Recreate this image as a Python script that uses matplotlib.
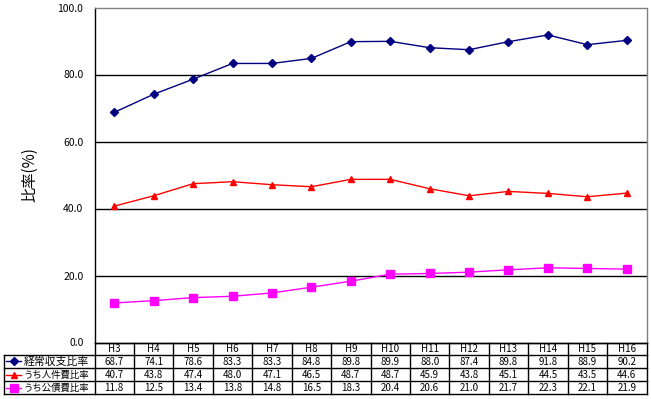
import matplotlib
matplotlib.use("Agg")
import matplotlib.pyplot as plt

plt.rcParams['font.family'] = ['Noto Sans CJK JP', 'DejaVu Sans']

categories = ["H3", "H4", "H5", "H6", "H7", "H8", "H9", "H10", "H11", "H12", "H13", "H14", "H15", "H16"]
keijo = [68.7, 74.1, 78.6, 83.3, 83.3, 84.8, 89.8, 89.9, 88.0, 87.4, 89.8, 91.8, 88.9, 90.2]
jinken = [40.7, 43.8, 47.4, 48.0, 47.1, 46.5, 48.7, 48.7, 45.9, 43.8, 45.1, 44.5, 43.5, 44.6]
kosai = [11.8, 12.5, 13.4, 13.8, 14.8, 16.5, 18.3, 20.4, 20.6, 21.0, 21.7, 22.3, 22.1, 21.9]
series_names = ["経常収支比率", "うち人件費比率", "うち公債費比率"]
yticks = [0, 20, 40, 60, 80, 100]

W, H = 651, 399
fig = plt.figure(figsize=(W / 100, H / 100), dpi=100)
fig.patch.set_facecolor("white")

L, R, T, B = 94.5, 646.5, 7.5, 342.5
ax = fig.add_axes([L / W, 1 - B / H, (R - L) / W, (B - T) / H])
x = list(range(len(categories)))

styles = [
    dict(color="#000080", marker="D", markersize=4),
    dict(color="#FF0000", marker="^", markersize=5),
    dict(color="#FF00FF", marker="s", markersize=5.5),
]
data = [keijo, jinken, kosai]
for vals, st in zip(data, styles):
    ax.plot(x, vals, lw=1, zorder=3, **st)

ax.set_xlim(-0.5, len(categories) - 0.5)
ax.set_ylim(0, 100)
ax.set_yticks(yticks)
ax.set_yticklabels([f"{v:.1f}" for v in yticks], fontsize=7.5)
ax.set_xticks([])
for v in yticks[1:-1]:
    ax.axhline(v, color="black", lw=1, zorder=1)
ax.tick_params(axis="y", length=0, pad=8)
ax.spines["left"].set_color("black")
ax.spines["bottom"].set_color("black")
ax.spines["top"].set_color("#808080")
ax.spines["right"].set_color("#808080")
for s in ax.spines.values():
    s.set_linewidth(1)

fig.text(30 / W, 1 - 175 / H, "比率(%)", rotation=90, ha="center", va="center", fontsize=11)

# table overlay
tax = fig.add_axes([0, 0, 1, 1])
tax.set_xlim(0, W)
tax.set_ylim(H, 0)
tax.axis("off")
tax.patch.set_alpha(0)

colw = (R - L) / len(categories)
rows_y = [342.5, 354.5, 368, 381, 394]
lx = 3.5
tax.plot([L, R], [rows_y[0], rows_y[0]], color="black", lw=1)
for yy in rows_y[1:]:
    tax.plot([lx, R], [yy, yy], color="black", lw=1)
tax.plot([lx, lx], [rows_y[1], rows_y[-1]], color="black", lw=1)
for i in range(len(categories) + 1):
    xx = L + i * colw
    tax.plot([xx, xx], [rows_y[0], rows_y[-1]], color="black", lw=1)

for i, c in enumerate(categories):
    cx = L + (i + 0.5) * colw
    tax.text(cx, (rows_y[0] + rows_y[1]) / 2 + 0.5, c, ha="center", va="center", fontsize=7)
    for r, vals in enumerate(data):
        cy = (rows_y[r + 1] + rows_y[r + 2]) / 2 + 0.5
        tax.text(cx, cy, f"{vals[i]:.1f}", ha="center", va="center", fontsize=7)

for r, (name, st) in enumerate(zip(series_names, styles)):
    cy = (rows_y[r + 1] + rows_y[r + 2]) / 2
    tax.plot([6, 21], [cy, cy], color=st["color"], lw=1)
    tax.plot([13.5], [cy], color=st["color"], marker=st["marker"], markersize=st["markersize"], lw=0)
    fs = min(7.8, 66 / len(name) / 1.389)
    tax.text(23.5, cy + 0.5, name, ha="left", va="center", fontsize=fs)

fig.savefig("out.png", dpi=100, facecolor="white")
